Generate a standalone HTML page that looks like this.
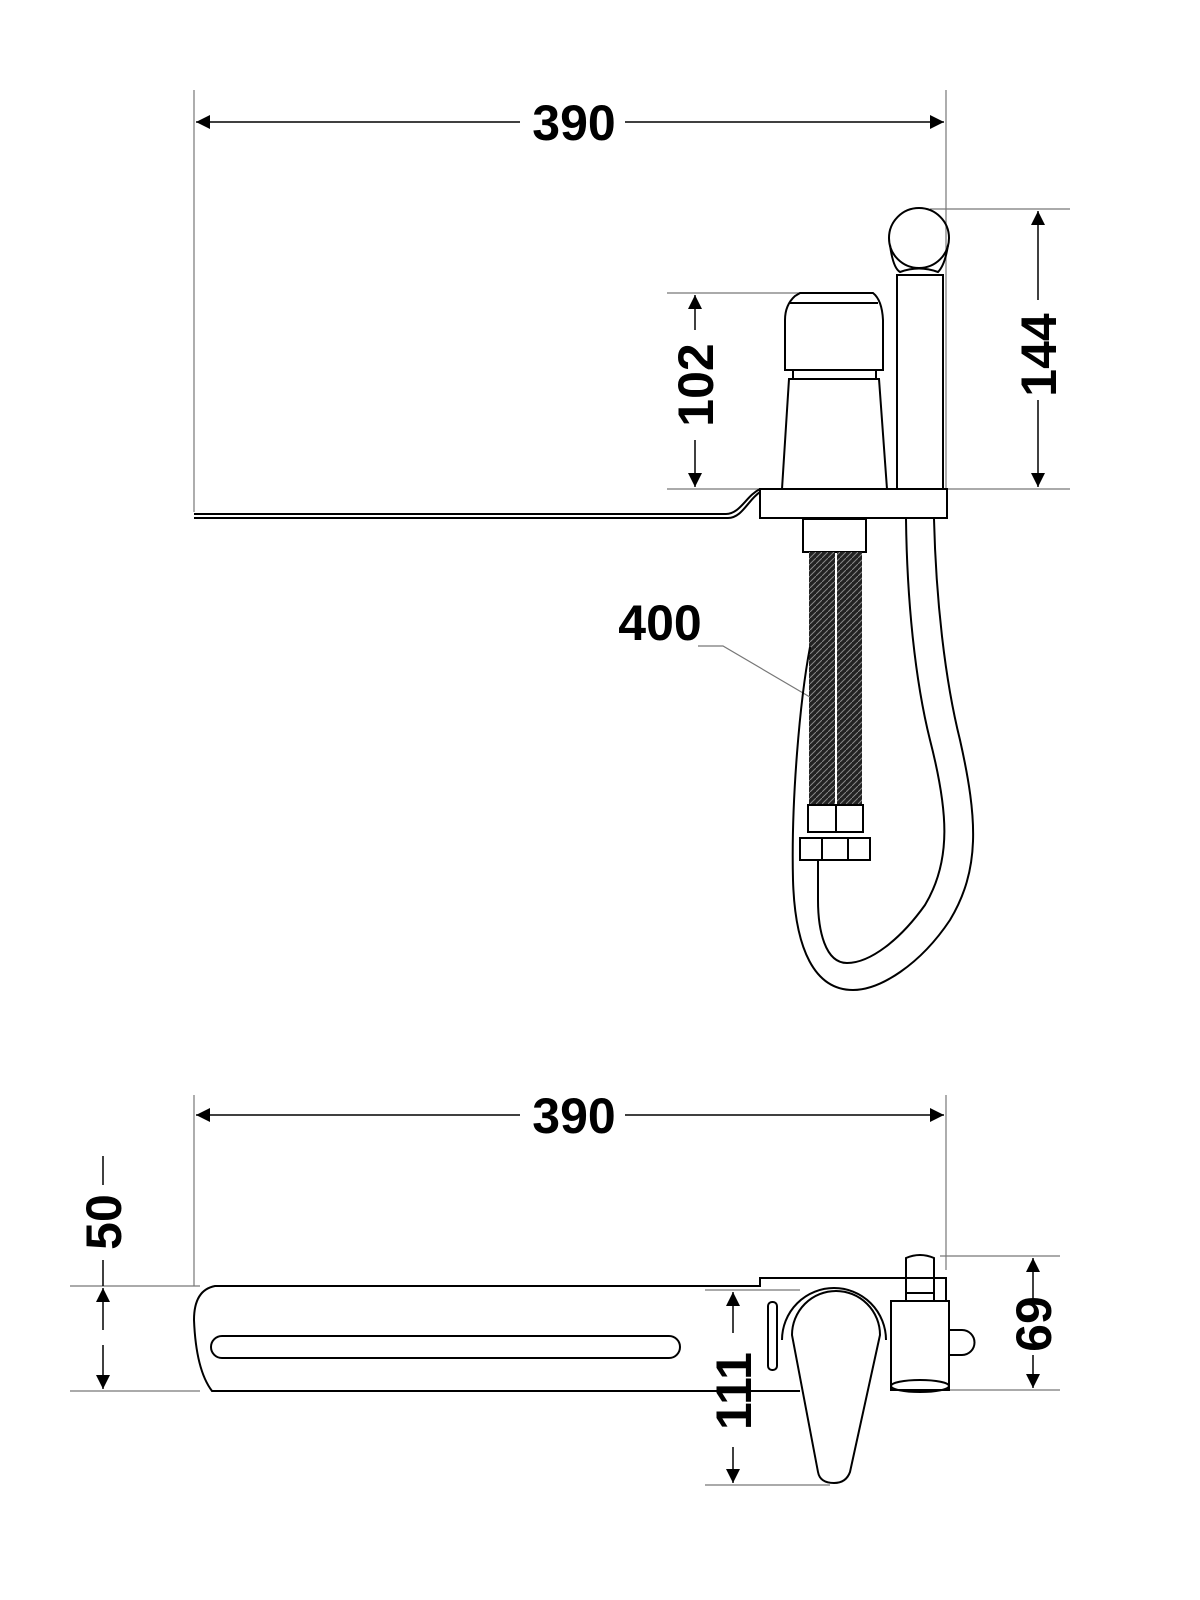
<!DOCTYPE html>
<html><head><meta charset="utf-8"><style>
html,body{margin:0;padding:0;background:#fff}
svg{display:block}
text{font-family:"Liberation Sans",sans-serif;font-weight:bold;fill:#000}
</style></head><body>
<svg width="1200" height="1600" viewBox="0 0 1200 1600" xmlns="http://www.w3.org/2000/svg">
<defs>
<marker id="a" viewBox="0 0 10 10" refX="10" refY="5" markerWidth="26" markerHeight="14" markerUnits="userSpaceOnUse" orient="auto"><path d="M0,0 L10,5 L0,10 z" fill="#000"/></marker>
<pattern id="br" width="6" height="6" patternUnits="userSpaceOnUse"><rect width="6" height="6" fill="#222"/><path d="M0,6 L6,0" stroke="#888" stroke-width="1"/></pattern>
</defs>
<g stroke="#777" stroke-width="1.2" fill="none">
<line x1="194" y1="90" x2="194" y2="512"/>
<line x1="946" y1="90" x2="946" y2="489"/>
<line x1="667" y1="293" x2="800" y2="293"/>
<line x1="667" y1="489" x2="1070" y2="489"/>
<line x1="930" y1="209" x2="1070" y2="209"/>
<line x1="194" y1="1095" x2="194" y2="1286"/>
<line x1="946" y1="1095" x2="946" y2="1270"/>
<line x1="70" y1="1286" x2="200" y2="1286"/>
<line x1="70" y1="1391" x2="200" y2="1391"/>
<line x1="705" y1="1290" x2="800" y2="1290"/>
<line x1="705" y1="1485" x2="830" y2="1485"/>
<line x1="940" y1="1256" x2="1060" y2="1256"/>
<line x1="920" y1="1390" x2="1060" y2="1390"/>
<polyline points="698,646 723,646 815,700"/>
</g>
<g stroke="#000" stroke-width="1.5" fill="none">
<line x1="520" y1="122" x2="196" y2="122" marker-end="url(#a)"/>
<line x1="625" y1="122" x2="944" y2="122" marker-end="url(#a)"/>
<line x1="695" y1="330" x2="695" y2="295" marker-end="url(#a)"/>
<line x1="695" y1="440" x2="695" y2="487" marker-end="url(#a)"/>
<line x1="1038" y1="300" x2="1038" y2="211" marker-end="url(#a)"/>
<line x1="1038" y1="400" x2="1038" y2="487" marker-end="url(#a)"/>
<line x1="520" y1="1115" x2="196" y2="1115" marker-end="url(#a)"/>
<line x1="625" y1="1115" x2="944" y2="1115" marker-end="url(#a)"/>
<line x1="103" y1="1156" x2="103" y2="1185"/>
<line x1="103" y1="1260" x2="103" y2="1286"/>
<line x1="103" y1="1330" x2="103" y2="1288" marker-end="url(#a)"/>
<line x1="103" y1="1345" x2="103" y2="1389" marker-end="url(#a)"/>
<line x1="733" y1="1333" x2="733" y2="1292" marker-end="url(#a)"/>
<line x1="733" y1="1447" x2="733" y2="1483" marker-end="url(#a)"/>
<line x1="1033" y1="1300" x2="1033" y2="1258" marker-end="url(#a)"/>
<line x1="1033" y1="1355" x2="1033" y2="1388" marker-end="url(#a)"/>
</g>
<g stroke="#000" stroke-width="2" fill="none">
<path d="M194,518 L728,518 C742,518 748,500 760,492"/>
<path d="M194,514 L726,514 C740,514 746,496 760,489"/>
<rect x="760" y="489" width="187" height="29"/>
<path d="M785,370 L785,320 Q785,305 795,296 L800,293 L873,293 Q882,300 883,320 L883,370 Z"/>
<path d="M790,303 L878,303"/>
<rect x="793" y="370" width="83" height="9"/>
<path d="M789,379 L879,379 L887,489 L782,489 Z"/>
<path d="M897,489 L897,275 L943,275 L943,489"/>
<circle cx="919" cy="238" r="30"/>
<path d="M890,245 Q893,268 900,272 Q919,265 938,272 Q945,265 948,245"/>
<rect x="803" y="519" width="63" height="33"/>
<rect x="809" y="552" width="26" height="253" fill="url(#br)" stroke="none"/>
<rect x="837" y="552" width="25" height="253" fill="url(#br)" stroke="none"/>
<rect x="808" y="805" width="28" height="27"/>
<rect x="836" y="805" width="27" height="27"/>
<rect x="800" y="838" width="70" height="22"/>
<line x1="822" y1="838" x2="822" y2="860"/>
<line x1="848" y1="838" x2="848" y2="860"/>
<path d="M934,519 C936,600 945,680 960,740 C978,820 980,870 950,920 C920,965 880,990 853,990 C815,990 795,950 793,880 C791,800 800,700 810,647"/>
<path d="M906,519 C907,600 915,680 930,740 C948,810 952,860 925,905 C900,940 870,963 847,963 C825,963 818,930 818,900 L818,860"/>
<path d="M946,1300 L946,1278 L760,1278 L760,1286 L215,1286 Q194,1290 194,1320 Q196,1370 212,1391 L800,1391"/>
<rect x="211" y="1336" width="469" height="22" rx="11"/>
<rect x="768" y="1302" width="9" height="68" rx="4"/>
<path d="M792,1335 A44,44 0 1 1 880,1335 L850,1472 Q846,1483 834,1483 Q820,1483 818,1472 Z"/>
<path d="M782,1340 A52,52 0 1 1 886,1340"/>
<rect x="891" y="1301" width="58" height="89" fill="#fff"/>
<ellipse cx="920" cy="1386" rx="29" ry="6"/>
<path d="M906,1300 L906,1258 Q920,1252 934,1258 L934,1300"/>
<line x1="906" y1="1293" x2="934" y2="1293"/>
<path d="M949,1330 L962,1330 A12,12 0 0 1 962,1355 L949,1355"/>
</g>
<g font-size="50">
<text x="574" y="140" text-anchor="middle">390</text>
<text x="574" y="1133" text-anchor="middle">390</text>
<text x="660" y="640" text-anchor="middle">400</text>
<text transform="translate(713,385) rotate(-90)" text-anchor="middle">102</text>
<text transform="translate(1056,355) rotate(-90)" text-anchor="middle">144</text>
<text transform="translate(121,1222) rotate(-90)" text-anchor="middle">50</text>
<text transform="translate(751,1391) rotate(-90)" text-anchor="middle">111</text>
<text transform="translate(1051,1324) rotate(-90)" text-anchor="middle">69</text>
</g>
</svg>
</body></html>
